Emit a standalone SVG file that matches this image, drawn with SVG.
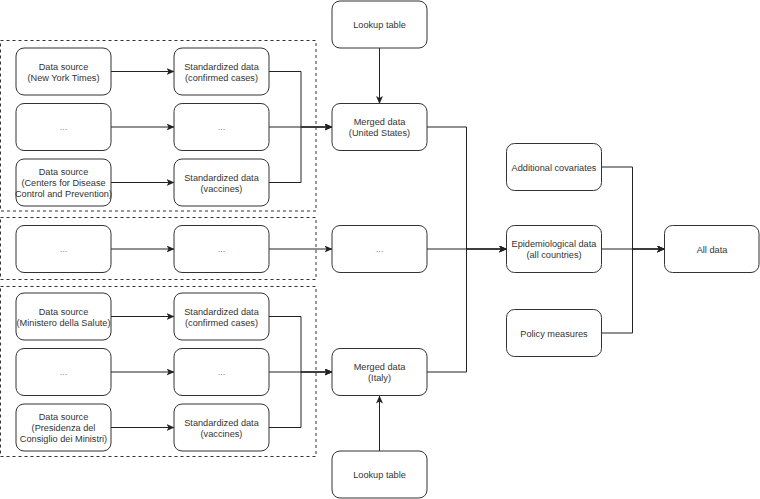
<svg xmlns="http://www.w3.org/2000/svg" width="760" height="499" viewBox="0 0 760 499">
<style>
.n rect{fill:#fff;stroke:#333;stroke-width:1}
.g{fill:none;stroke:#333;stroke-width:1;stroke-dasharray:3,3}
.c path{fill:none;stroke:#222;stroke-width:1}
.a{marker-end:url(#ah)}
text{font-family:"Liberation Sans",Arial,Helvetica,sans-serif;font-size:9.2px;fill:#333;text-anchor:middle}
text.d{fill:#888}
</style>
<defs>
<marker id="ah" viewBox="0 0 8 7" refX="7.5" refY="3.5" markerWidth="8" markerHeight="7" markerUnits="userSpaceOnUse" orient="auto">
<path d="M0,0 L8,3.5 L0,7 L2,3.5 z" fill="#222"/>
</marker>
</defs>
<rect width="760" height="499" fill="#fff"/>
<g id="groups">
<rect class="g" x="0.5" y="40.5" width="315.5" height="170.5"/>
<rect class="g" x="0.5" y="217.5" width="315.5" height="62"/>
<rect class="g" x="0.5" y="286.5" width="315.5" height="170"/>
</g>
<g class="c" id="connectors">
<path class="a" d="M111,71.5 H174"/>
<path class="a" d="M111,127 H174"/>
<path class="a" d="M111,182.5 H174"/>
<path class="a" d="M269,71.5 H301 V127 H332"/>
<path class="a" d="M269,127 H332"/>
<path class="a" d="M269,182.5 H301 V127 H332"/>
<path class="a" d="M379.5,48 V103.5"/>
<path class="a" d="M111,249 H174"/>
<path class="a" d="M269,249 H332"/>
<path class="a" d="M111,316.5 H174"/>
<path class="a" d="M111,372 H174"/>
<path class="a" d="M111,427.5 H174"/>
<path class="a" d="M269,316.5 H301 V372 H332"/>
<path class="a" d="M269,372 H332"/>
<path class="a" d="M269,427.5 H301 V372 H332"/>
<path class="a" d="M379.5,451 V396"/>
<path class="a" d="M427,127 H466.5 V249 H506.5"/>
<path class="a" d="M427,249 H506.5"/>
<path class="a" d="M427,372 H466.5 V249 H506.5"/>
<path class="a" d="M601.5,167 H632.5 V249 H664.5"/>
<path class="a" d="M601.5,249 H664.5"/>
<path class="a" d="M601.5,333 H632.5 V249 H664.5"/>
</g>
<g class="n" id="src-nyt"><rect x="16" y="48" width="95" height="47" rx="8"/><text x="63.5" y="69.5">Data source</text><text x="63.5" y="80.5">(New York Times)</text></g>
<g class="n" id="src-us-dots"><rect x="16" y="103.5" width="95" height="47" rx="8"/><text class="d" x="63.5" y="130">...</text></g>
<g class="n" id="src-cdc"><rect x="16" y="159" width="95" height="47" rx="8"/><text x="63.5" y="175">Data source</text><text x="63.5" y="186">(Centers for Disease</text><text x="63.5" y="197">Control and Prevention)</text></g>
<g class="n" id="std-us-cases"><rect x="174" y="48" width="95" height="47" rx="8"/><text x="221.5" y="69.5">Standardized data</text><text x="221.5" y="80.5">(confirmed cases)</text></g>
<g class="n" id="std-us-dots"><rect x="174" y="103.5" width="95" height="47" rx="8"/><text class="d" x="221.5" y="130">...</text></g>
<g class="n" id="std-us-vacc"><rect x="174" y="159" width="95" height="47" rx="8"/><text x="221.5" y="180.5">Standardized data</text><text x="221.5" y="191.5">(vaccines)</text></g>
<g class="n" id="lookup-us"><rect x="332" y="1" width="95" height="47" rx="8"/><text x="379.5" y="28">Lookup table</text></g>
<g class="n" id="merged-us"><rect x="332" y="103.5" width="95" height="47" rx="8"/><text x="379.5" y="125">Merged data</text><text x="379.5" y="136">(United States)</text></g>
<g class="n" id="src-mid-dots"><rect x="16" y="225.5" width="95" height="47" rx="8"/><text class="d" x="63.5" y="252">...</text></g>
<g class="n" id="std-mid-dots"><rect x="174" y="225.5" width="95" height="47" rx="8"/><text class="d" x="221.5" y="252">...</text></g>
<g class="n" id="merged-mid-dots"><rect x="332" y="225.5" width="95" height="47" rx="8"/><text class="d" x="379.5" y="252">...</text></g>
<g class="n" id="src-ministero"><rect x="16" y="293" width="95" height="47" rx="8"/><text x="63.5" y="315">Data source</text><text x="63.5" y="326">(Ministero della Salute)</text></g>
<g class="n" id="src-it-dots"><rect x="16" y="348.5" width="95" height="47" rx="8"/><text class="d" x="63.5" y="375">...</text></g>
<g class="n" id="src-presidenza"><rect x="16" y="404" width="95" height="47" rx="8"/><text x="63.5" y="420">Data source</text><text x="63.5" y="431">(Presidenza del</text><text x="63.5" y="442">Consiglio dei Ministri)</text></g>
<g class="n" id="std-it-cases"><rect x="174" y="293" width="95" height="47" rx="8"/><text x="221.5" y="315">Standardized data</text><text x="221.5" y="326">(confirmed cases)</text></g>
<g class="n" id="std-it-dots"><rect x="174" y="348.5" width="95" height="47" rx="8"/><text class="d" x="221.5" y="375">...</text></g>
<g class="n" id="std-it-vacc"><rect x="174" y="404" width="95" height="47" rx="8"/><text x="221.5" y="425.5">Standardized data</text><text x="221.5" y="436.5">(vaccines)</text></g>
<g class="n" id="merged-it"><rect x="332" y="348.5" width="95" height="47" rx="8"/><text x="379.5" y="370">Merged data</text><text x="379.5" y="381">(Italy)</text></g>
<g class="n" id="lookup-it"><rect x="332" y="451" width="95" height="47" rx="8"/><text x="379.5" y="478">Lookup table</text></g>
<g class="n" id="covariates"><rect x="506.5" y="143.5" width="95" height="47" rx="8"/><text x="554" y="170.5">Additional covariates</text></g>
<g class="n" id="epi"><rect x="506.5" y="225.5" width="95" height="47" rx="8"/><text x="554" y="247">Epidemiological data</text><text x="554" y="258">(all countries)</text></g>
<g class="n" id="policy"><rect x="506.5" y="309.5" width="95" height="47" rx="8"/><text x="554" y="336.5">Policy measures</text></g>
<g class="n" id="alldata"><rect x="664.5" y="225.5" width="94.5" height="47" rx="8"/><text x="712" y="252.5">All data</text></g>
</svg>
